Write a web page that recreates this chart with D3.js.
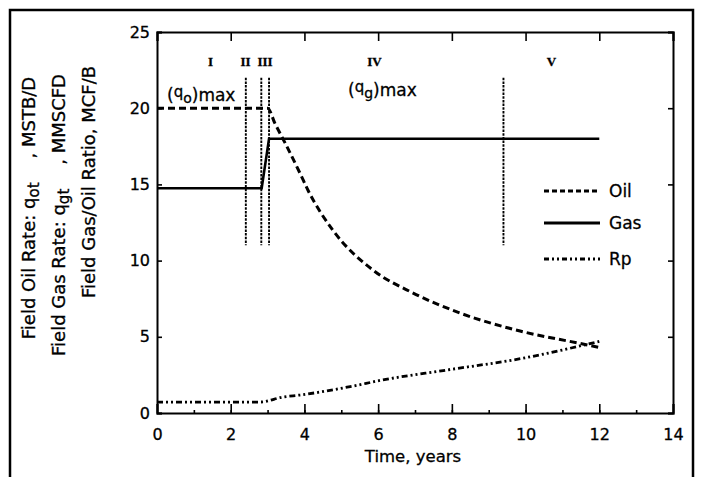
<!DOCTYPE html>
<html>
<head>
<meta charset="utf-8">
<script src="https://cdn.jsdelivr.net/npm/d3@7"></script>
<style>
  html, body { margin: 0; padding: 0; background: #fff; }
  svg { display: block; }
  text { font-family: "DejaVu Sans", sans-serif; fill: #000; stroke: #000; stroke-width: 0.3px; }
  .axis path, .axis line { stroke: #000; }
</style>
</head>
<body>
<div id="chart"></div>
<script>
// ---- data ----
const oilT = [0, 3.0, 3.2, 3.5, 3.88, 4.1, 4.77, 5.86, 6.95, 8.22, 9.85, 11.4, 12];
const oilQ = [20, 20, 19.0, 17.6, 15.73, 14.6, 12.0, 9.38, 7.87, 6.56, 5.38, 4.6, 4.3];

const gasT = [0, 2.84, 3.04, 12];
const gasQ = [14.75, 14.75, 18, 18];

const rpT = [0, 2.8, 3.42, 3.88, 5.24, 6.13, 7.86, 9.94, 11.48, 12];
const rpV = [0.72, 0.72, 1.05, 1.18, 1.73, 2.17, 2.82, 3.6, 4.4, 4.7];

const phaseBounds = [2.41, 2.83, 3.04, 9.4];
const phaseSpan = [11, 22];
const phaseNames = ["I", "II", "III", "IV", "V"];
const phaseLabelT = [1.45, 2.4, 2.93, 5.9, 10.7];

const xTicks = [0, 2, 4, 6, 8, 10, 12, 14];
const yTicks = [0, 5, 10, 15, 20, 25];

(function() {
  const fullW = 701, fullH = 477;
  const margin = { top: 32, left: 157 };
  const W = 516, H = 381;

  const svg = d3.select("#chart").append("svg")
    .attr("width", fullW).attr("height", fullH);

  // outer frame of the figure
  svg.append("rect")
    .attr("x", 10).attr("y", 10)
    .attr("width", 683).attr("height", 490)
    .attr("fill", "none").attr("stroke", "#000").attr("stroke-width", 2.5);

  const g = svg.append("g").attr("transform", `translate(${margin.left},${margin.top})`);

  const x = d3.scaleLinear().domain([0, 14]).range([0, W]);
  const y = d3.scaleLinear().domain([0, 25]).range([H, 0]);

  // axes (ticks point inward)
  const xb = g.append("g").attr("class", "axis")
    .attr("transform", `translate(0,${H})`)
    .call(d3.axisBottom(x).tickValues(xTicks).tickSize(-9).tickPadding(16));
  xb.selectAll("text").style("font-size", "16px");

  g.append("g").attr("class", "axis")
    .attr("transform", `translate(0,${H})`)
    .call(d3.axisBottom(x).tickValues(d3.range(1, 14, 1)).tickSize(-3).tickFormat(""))
    .select(".domain").remove();

  g.append("g").attr("class", "axis")
    .call(d3.axisTop(x).tickValues(xTicks).tickSize(-9).tickFormat(""));

  const yl = g.append("g").attr("class", "axis")
    .call(d3.axisLeft(y).tickValues(yTicks).tickSize(-5).tickPadding(7));
  yl.selectAll("text").style("font-size", "16px");

  g.append("g").attr("class", "axis")
    .attr("transform", `translate(${W},0)`)
    .call(d3.axisRight(y).tickValues(yTicks).tickSize(-5).tickFormat(""));

  g.selectAll(".axis .domain").attr("stroke-width", 2);
  g.selectAll(".axis .tick line").attr("stroke-width", 1.6);

  // phase boundaries
  g.selectAll(".phase").data(phaseBounds).enter().append("line")
    .attr("class", "phase")
    .attr("x1", d => x(d)).attr("x2", d => x(d))
    .attr("y1", y(phaseSpan[1])).attr("y2", y(phaseSpan[0]))
    .attr("stroke", "#000").attr("stroke-width", 1.9)
    .attr("stroke-dasharray", "2.5,1.2");

  g.selectAll(".phase-label").data(phaseNames).enter().append("text")
    .attr("class", "phase-label")
    .attr("x", (d, i) => x(phaseLabelT[i]))
    .attr("y", y(22.75))
    .attr("text-anchor", "middle")
    .style("font-family", "'Liberation Serif', serif")
    .style("font-weight", "bold")
    .style("font-size", "13px")
    .text(d => d);

  const line = d3.line().x(d => x(d[0])).y(d => y(d[1]));

  const oil = oilT.map((t, i) => [t, oilQ[i]]);
  const gas = gasT.map((t, i) => [t, gasQ[i]]);
  const rp  = rpT.map((t, i) => [t, rpV[i]]);

  g.append("path").datum(gas)
    .attr("d", line)
    .attr("fill", "none").attr("stroke", "#000").attr("stroke-width", 2.6);

  g.append("path").datum(oil)
    .attr("d", line.curve(d3.curveMonotoneX))
    .attr("fill", "none").attr("stroke", "#000").attr("stroke-width", 3)
    .attr("stroke-dasharray", "7,4");

  g.append("path").datum(rp)
    .attr("d", line.curve(d3.curveMonotoneX))
    .attr("fill", "none").attr("stroke", "#000").attr("stroke-width", 2.8)
    .attr("stroke-dasharray", "6,3,2,3,2,3");

  // (q_o)max and (q_g)max annotations
  function qmax(px, py, sub) {
    const t = g.append("text").attr("x", px).attr("y", py).style("font-size", "17px");
    t.append("tspan").text("(");
    t.append("tspan").attr("dy", -4).style("font-size", "15px").text("q");
    t.append("tspan").attr("dy", 6).style("font-size", "14px").text(sub);
    t.append("tspan").attr("dy", -2).text(")max");
  }
  qmax(167 - margin.left, 101 - margin.top, "o");
  qmax(348 - margin.left, 96 - margin.top, "g");

  // legend
  const legend = [
    { name: "Oil", dash: "5,3", y: 191 },
    { name: "Gas", dash: null, y: 223 },
    { name: "Rp",  dash: "5,3,2,3,2,3", y: 259 }
  ];
  const lg = svg.append("g");
  legend.forEach(d => {
    lg.append("line")
      .attr("x1", 544).attr("x2", 600).attr("y1", d.y).attr("y2", d.y)
      .attr("stroke", "#000").attr("stroke-width", 2.8)
      .attr("stroke-dasharray", d.dash);
    lg.append("text")
      .attr("x", 609).attr("y", d.y).attr("dy", "0.36em")
      .style("font-size", "17px")
      .text(d.name);
  });

  // x axis title
  g.append("text")
    .attr("x", 413 - margin.left).attr("y", 462 - margin.top)
    .attr("text-anchor", "middle")
    .style("font-size", "16.5px")
    .text("Time, years");

  // y axis titles (three stacked lines)
  function ylab(cx, cy, parts) {
    const t = svg.append("text")
      .attr("transform", `translate(${cx},${cy}) rotate(-90)`)
      .attr("text-anchor", "middle")
      .style("font-size", "18px");
    parts.forEach(p => {
      const s = t.append("tspan").text(p.t);
      if (p.dy) s.attr("dy", p.dy);
      if (p.dx) s.attr("dx", p.dx);
      if (p.size) s.style("font-size", p.size);
    });
  }
  ylab(35, 208, [
    { t: "Field Oil Rate: q" },
    { t: "ot", dy: 4, size: "15px" },
    { t: ", MSTB/D", dy: -4, dx: 24 }
  ]);
  ylab(65, 215, [
    { t: "Field Gas Rate: q" },
    { t: "gt", dy: 4, size: "15px" },
    { t: ", MMSCFD", dy: -4, dx: 24 }
  ]);
  ylab(95, 182, [
    { t: "Field Gas/Oil Ratio, MCF/B" }
  ]);
})();
</script>
</body>
</html>
